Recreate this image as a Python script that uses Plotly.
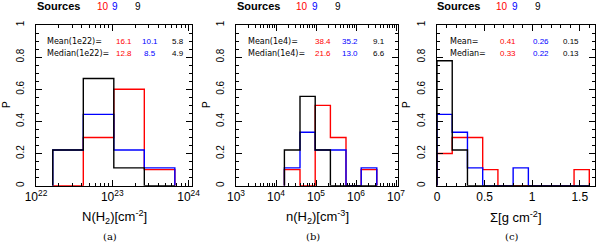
import plotly.graph_objects as go

# ---------------- data ----------------
# panel (a): log10 N(H2) bin edges and probabilities
a_edges = [22.22, 22.62, 23.02, 23.42, 23.82]
a_red = [0.0, 0.3, 0.6, 0.1]
a_blue = [0.222, 0.444, 0.222, 0.111]
a_black = [0.222, 0.667, 0.111, 0.0]

# panel (b): log10 n(H2) bin edges
b_edges = [4.21, 4.60, 4.98, 5.36, 5.75, 6.13, 6.52]
b_red = [0.1, 0.0, 0.5, 0.3, 0.0, 0.1]
b_blue = [0.111, 0.333, 0.222, 0.222, 0.0, 0.111]
b_black = [0.222, 0.556, 0.222, 0.0, 0.0, 0.0]

# panel (c): Sigma bin edges
c_edges = [0.0, 0.16, 0.32, 0.48, 0.64, 0.80, 0.96, 1.12, 1.28, 1.44, 1.60]
c_red = [0.2, 0.3, 0.3, 0.1, 0.0, 0.0, 0.0, 0.0, 0.0, 0.1]
c_blue = [0.444, 0.333, 0.111, 0.0, 0.0, 0.111, 0.0, 0.0, 0.0, 0.0]
c_black = [0.778, 0.222, 0.0, 0.0, 0.0, 0.0, 0.0, 0.0, 0.0, 0.0]

sources = ["10", "9", "9"]
a_mean = ["16.1", "10.1", "5.8"]
a_median = ["12.8", "8.5", "4.9"]
b_mean = ["38.4", "35.2", "9.1"]
b_median = ["21.6", "13.0", "6.6"]
c_mean = ["0.41", "0.26", "0.15"]
c_median = ["0.33", "0.22", "0.13"]

xtitles = ["N(H<sub>2</sub>)[cm<sup>-2</sup>]", "n(H<sub>2</sub>)[cm<sup>-3</sup>]",
           "Σ[g cm<sup>-2</sup>]"]
panel_labels = ["(a)", "(b)", "(c)"]
mean_labels = ["Mean(1e22)=", "Mean(1e4)=", "Mean="]
median_labels = ["Median(1e22)=", "Median(1e4)=", "Median="]

COLORS = ["red", "blue", "black"]
FONT = "Liberation Sans"
W, H = 600, 242


def px(x):
    return x / W


def py(y):
    return 1 - y / H


def steps(edges, vals, log=False):
    xs, ys = [edges[0]], [0.0]
    for i, v in enumerate(vals):
        xs += [edges[i], edges[i + 1]]
        ys += [v, v]
    xs.append(edges[-1])
    ys.append(0.0)
    if log:
        xs = [10.0 ** x for x in xs]
    return xs, ys


fig = go.Figure()
panels = [
    (a_edges, [a_red, a_blue, a_black], True),
    (b_edges, [b_red, b_blue, b_black], True),
    (c_edges, [c_red, c_blue, c_black], False),
]
for i, (edges, series, log) in enumerate(panels):
    ax = "" if i == 0 else str(i + 1)
    for s, col in zip(series, COLORS):
        xs, ys = steps(edges, s, log)
        fig.add_trace(go.Scatter(x=xs, y=ys, mode="lines", xaxis="x" + ax, yaxis="y" + ax,
                                 line=dict(color=col, width=1.4), showlegend=False,
                                 hoverinfo="skip"))

# pixel layout of each panel
pl = [(36, 192), (236, 398), (437, 595)]
ytop, ybot = 25, 185.7
ydom = [py(ybot), py(ytop)]

common_axis = dict(showgrid=False, zeroline=False, showline=True, linecolor="black",
                   linewidth=1.4, mirror="ticks", ticks="inside", tickcolor="black",
                   tickwidth=1, automargin=False,
                   tickfont=dict(family=FONT, size=12, color="black"))


def log_minor(d0, d1):
    return [float(m) * 10.0 ** d for d in range(d0, d1) for m in range(2, 10)]


xaxes = [
    dict(type="log", range=[22, 24.045],
         tickvals=[1e22, 1e23, 1e24],
         ticktext=["10<sup>22</sup>", "10<sup>23</sup>", "10<sup>24</sup>"],
         ticklen=6,
         minor=dict(tickvals=log_minor(22, 24), ticks="inside", ticklen=3, tickcolor="black")),
    dict(type="log", range=[3, 7.05],
         tickvals=[1e3, 1e4, 1e5, 1e6, 1e7],
         ticktext=["10<sup>3</sup>", "10<sup>4</sup>", "10<sup>5</sup>", "10<sup>6</sup>",
                   "10<sup>7</sup>"],
         ticklen=6,
         minor=dict(tickvals=log_minor(3, 7), ticks="inside", ticklen=3, tickcolor="black")),
    dict(range=[0, 1.66], tickvals=[0, 0.5, 1, 1.5], ticktext=["0", "0.5", "1", "1.5"],
         ticklen=6,
         minor=dict(dtick=0.1, ticks="inside", ticklen=3, tickcolor="black")),
]

layout = dict(template="none", width=W, height=H,
              margin=dict(l=0, r=0, t=0, b=0, pad=0, autoexpand=False),
              plot_bgcolor="white", paper_bgcolor="white", showlegend=False)
for i in range(3):
    ax = "" if i == 0 else str(i + 1)
    xa = dict(common_axis)
    xa.update(xaxes[i])
    xa.update(domain=[px(pl[i][0]), px(pl[i][1])], anchor="y" + ax)
    layout["xaxis" + ax] = xa
    ya = dict(common_axis)
    ya.update(range=[0, 1], domain=ydom, anchor="x" + ax,
              tickvals=[0, 0.2, 0.4, 0.6, 0.8, 1], ticktext=["0", "0.2", "0.4", "0.6", "0.8", "1"],
              tickangle=-90, ticklen=6, ticklabelstandoff=7,
              tickfont=dict(family=FONT, size=10, color="black"),
              minor=dict(dtick=0.05, ticks="inside", ticklen=3, tickcolor="black"))
    layout["yaxis" + ax] = ya
fig.update_layout(**layout)

ann = []


def add(text, x, y, color="black", size=9, xanchor="center", bold=False, family=FONT, angle=0):
    if bold:
        text = "<b>" + text + "</b>"
    ann.append(dict(text=text, x=px(x), y=py(y), xref="paper", yref="paper", showarrow=False,
                    xanchor=xanchor, yanchor="middle", textangle=angle,
                    font=dict(family=family, size=size, color=color)))


means = [a_mean, b_mean, c_mean]
medians = [a_median, b_median, c_median]
src_x = [(35, [102.5, 114.5, 137.5]), (235, [302, 315, 338]), (435, [502, 515, 538])]
txt_x = [(45, [124, 150, 177.5]), (246, [323, 350, 379]), (448, [507.5, 540.5, 571])]
for i in range(3):
    off = 200 * i
    add("Sources", src_x[i][0], 6.5, size=11, xanchor="left", bold=True)
    for s, c, x in zip(sources, COLORS, src_x[i][1]):
        add(s, x, 6.5, color=c, size=10)
    add(mean_labels[i], txt_x[i][0], 41.5, size=8, xanchor="left", family="DejaVu Sans")
    add(median_labels[i], txt_x[i][0], 53.5, size=8, xanchor="left", family="DejaVu Sans")
    for v, c, x in zip(means[i], COLORS, txt_x[i][1]):
        add(v, x, 41.5, color=c, size=8)
    for v, c, x in zip(medians[i], COLORS, txt_x[i][1]):
        add(v, x, 53.5, color=c, size=8)
    add("P", 6 + off, 105, size=10, angle=-90)
    cx = (pl[i][0] + pl[i][1]) / 2
    add(xtitles[i], cx, 217, size=13)
    add(panel_labels[i], cx - 4, 236.5, size=10, family="DejaVu Serif")

fig.update_layout(annotations=ann)
fig.write_html("out.html", config={"displayModeBar": False},
               post_script="document.body.style.margin='0';document.body.style.overflow='hidden';")
